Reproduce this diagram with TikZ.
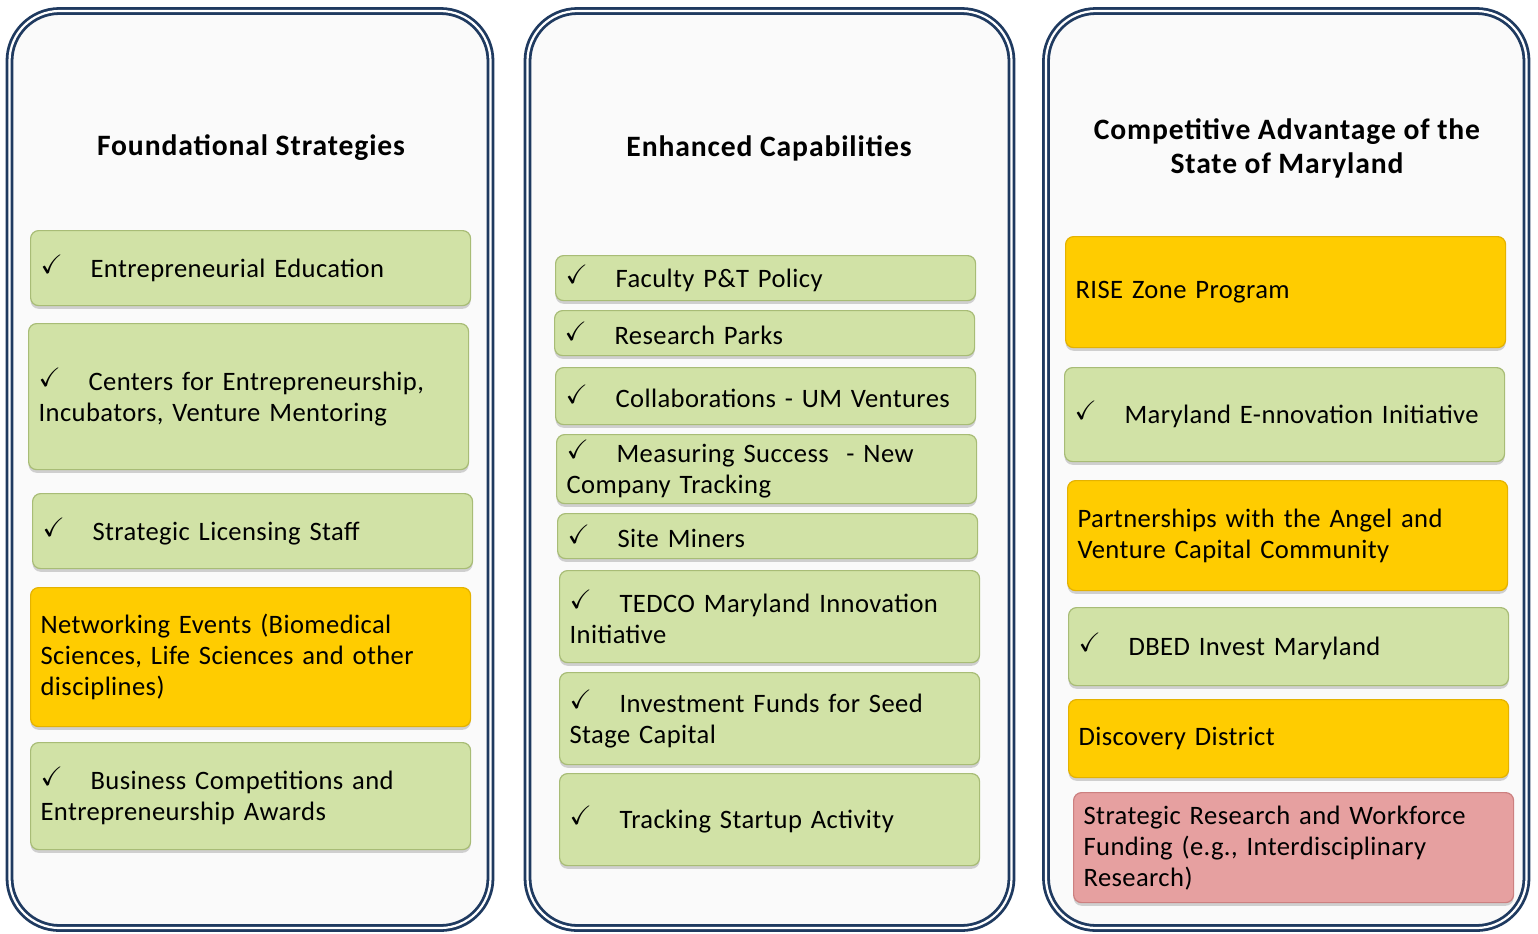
\documentclass[tikz,border=0pt]{standalone}
\usepackage{amssymb}
\usepackage{fontspec}
\setmainfont{Carlito}[LetterSpace=1.5]
\newfontfamily\headfont{Carlito}[LetterSpace=3]
\usetikzlibrary{shadows}

\definecolor{panelline}{RGB}{31,58,96}
\definecolor{panelfill}{RGB}{250,250,250}
\definecolor{itemgreen}{RGB}{209,226,166}
\definecolor{greenline}{RGB}{168,188,118}
\definecolor{itemyellow}{RGB}{255,204,0}
\definecolor{yellowline}{RGB}{228,178,0}
\definecolor{itempink}{RGB}{230,160,160}
\definecolor{pinkline}{RGB}{204,128,128}

\newcommand{\chk}{\makebox[25pt][l]{\raisebox{2pt}{$\checkmark$}}}

\tikzset{
  panel/.style={draw=panelline, fill=panelfill, line width=1.4pt, double=white,
    double distance=1.1pt, rounded corners=25pt},
  heading/.style={font=\headfont\fontsize{14.8pt}{17pt}\selectfont\bfseries, align=center},
  item/.style={anchor=north west, rounded corners=4pt, inner xsep=5pt, inner ysep=0pt,
    align=left, text width=210pt, line width=0.6pt,
    font=\fontsize{13.3pt}{15.5pt}\selectfont,
    drop shadow={shadow xshift=0pt, shadow yshift=-1.6pt, opacity=0.35}},
  narrow/.style={text width=200pt},
  green/.style={item, fill=itemgreen, draw=greenline},
  yellow/.style={item, fill=itemyellow, draw=yellowline},
  pink/.style={item, fill=itempink, draw=pinkline}
}

\begin{document}
\begin{tikzpicture}[x=0.5pt, y=-0.5pt]
  \useasboundingbox (0,0) rectangle (1538,933);
  % Panels
  \draw[panel] (9.5,11) rectangle (490.5,928);
  \draw[panel] (527.5,11) rectangle (1011.5,928);
  \draw[panel] (1046,11) rectangle (1526.5,928);
  % Headings
  \node[heading] (foundational) at (251,148) {Foundational Strategies};
  \node[heading] (enhanced) at (769,148) {Enhanced Capabilities};
  \node[heading] (competitive) at (1287,148) {Competitive Advantage of the\\State of Maryland};

  % Foundational strategies
  \node[green, minimum height=37.5pt] (education) at (30,230) {\chk Entrepreneurial Education};
  \node[green, minimum height=73pt] (centers) at (28,323) {\chk Centers for Entrepreneurship,\\Incubators, Venture Mentoring};
  \node[green, minimum height=37.5pt] (licensing) at (32,493) {\chk Strategic Licensing Staff};
  \node[yellow, minimum height=69.5pt] (networking) at (30,587) {Networking Events (Biomedical\\Sciences, Life Sciences and other\\disciplines)};
  \node[green, minimum height=53.5pt] (competitions) at (30,742) {\chk Business Competitions and\\Entrepreneurship Awards};

  % Enhanced capabilities
  \node[green, narrow, minimum height=22.5pt] (faculty) at (555,255) {\chk Faculty P\&T Policy};
  \node[green, narrow, minimum height=22.5pt] (parks) at (554,310) {\chk Research Parks};
  \node[green, narrow, minimum height=28.5pt] (ventures) at (555,367) {\chk Collaborations - UM Ventures};
  \node[green, narrow, minimum height=34.5pt] (measuring) at (556,434) {\chk Measuring Success\ \ - New\\Company Tracking};
  \node[green, narrow, minimum height=22.5pt] (miners) at (557,513) {\chk Site Miners};
  \node[green, narrow, minimum height=46pt] (tedco) at (559,570) {\chk TEDCO Maryland Innovation\\Initiative};
  \node[green, narrow, minimum height=46pt] (funds) at (559,672) {\chk Investment Funds for Seed\\Stage Capital};
  \node[green, narrow, minimum height=46pt] (tracking) at (559,773) {\chk Tracking Startup Activity};

  % Competitive advantage
  \node[yellow, minimum height=55.5pt] (rise) at (1065,236) {RISE Zone Program};
  \node[green, minimum height=47pt] (ennovation) at (1064,367) {\chk Maryland E-nnovation Initiative};
  \node[yellow, minimum height=55pt] (angel) at (1067,480) {Partnerships with the Angel and\\Venture Capital Community};
  \node[green, minimum height=39pt] (dbed) at (1068,607) {\chk DBED Invest Maryland};
  \node[yellow, minimum height=39pt] (discovery) at (1068,699) {Discovery District};
  \node[pink, minimum height=55pt] (workforce) at (1073,792) {Strategic Research and Workforce\\Funding (e.g., Interdisciplinary\\Research)};
\end{tikzpicture}
\end{document}
